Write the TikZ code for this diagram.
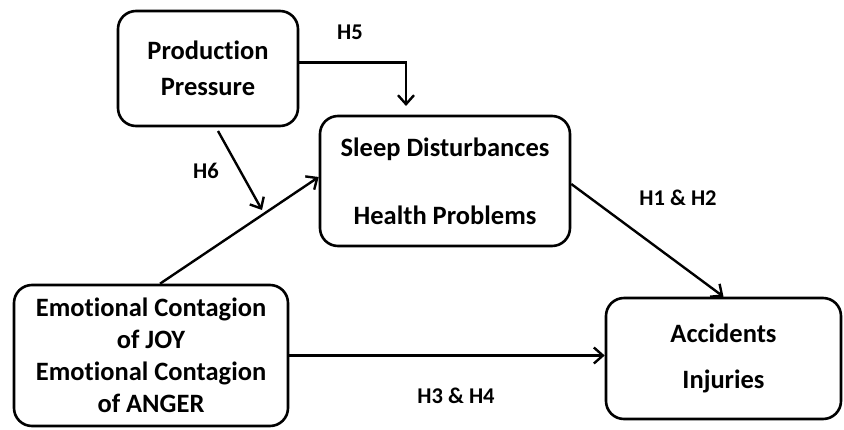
\documentclass[tikz,border=0pt]{standalone}
\usepackage{fontspec}
\setmainfont{Carlito}[Ligatures=NoCommon]
\usetikzlibrary{arrows.meta}
\begin{document}
\begin{tikzpicture}[x=1pt,y=-1pt,
 box/.style={draw,line width=2.6pt,rounded corners=18pt,align=center,font=\bfseries\fontsize{26.5}{32}\selectfont,inner sep=0pt},
 conn/.style={line width=2.4pt,-{Straight Barb[length=9pt,width=16pt,line width=2.4pt]}},
 lab/.style={font=\bfseries\fontsize{22.5}{24}\selectfont,inner sep=0pt}]
\useasboundingbox (0,0) rectangle (844,429);
\node[box,minimum width=180pt,minimum height=115pt] (pp) at (208,68.5) {Production\\[4pt]Pressure};
\node[box,minimum width=250pt,minimum height=130pt] (sl) at (445,181) {Sleep Disturbances\\[36pt]Health Problems};
\node[box,minimum width=274pt,minimum height=141pt] (em) at (151,355.5) {Emotional Contagion\\of JOY\\Emotional Contagion\\of ANGER};
\node[box,minimum width=235pt,minimum height=121pt] (ac) at (723.5,358.5) {Accidents\\[14pt]Injuries};
\coordinate (h5e) at (406,106);
\coordinate (h6s) at (218,131);
\coordinate (h6e) at (262,210);
\draw[conn] ([yshift=6pt]pp.east) -| (h5e);
\draw[conn] (h6s) -- (h6e);
\draw[conn] ([xshift=9pt]em.north) -- ([yshift=4pt]sl.west);
\draw[conn] ([yshift=-3pt]sl.east) -- (ac.north);
\draw[conn] (em.east) -- (em.east -| ac.west);
\node[lab] (l5) at (350,32) {H5};
\node[lab] (l6) at (206,171) {H6};
\node[lab] (l12) at (678,198) {H1 \& H2};
\node[lab] (l34) at (456,396) {H3 \& H4};
\end{tikzpicture}
\end{document}
